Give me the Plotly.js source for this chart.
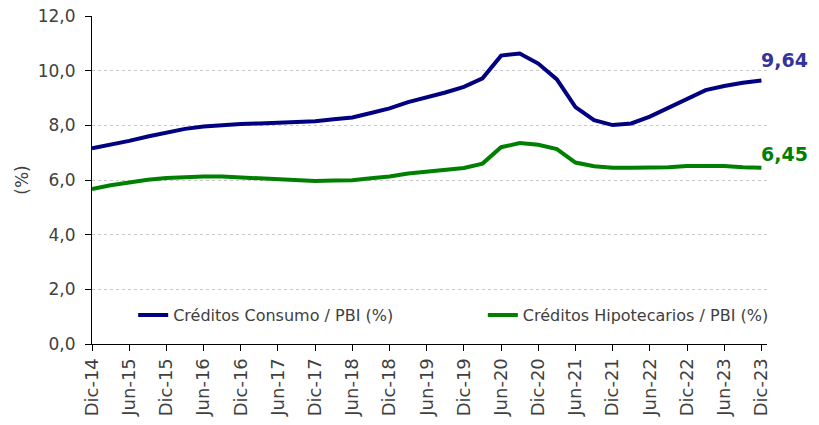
<!DOCTYPE html>
<html>
<head>
<meta charset="utf-8">
<script src="https://cdn.plot.ly/plotly-3.0.1.min.js"></script>
<style>html,body{margin:0;padding:0;background:#fff;}#chart{width:819px;height:425px;}</style>
</head>
<body>
<div id="chart"></div>
<script>
const quarters = ["Dic-14","Mar-15","Jun-15","Sep-15","Dic-15","Mar-16","Jun-16","Sep-16","Dic-16","Mar-17","Jun-17","Sep-17","Dic-17","Mar-18","Jun-18","Sep-18","Dic-18","Mar-19","Jun-19","Sep-19","Dic-19","Mar-20","Jun-20","Sep-20","Dic-20","Mar-21","Jun-21","Sep-21","Dic-21","Mar-22","Jun-22","Sep-22","Dic-22","Mar-23","Jun-23","Sep-23","Dic-23"];
const consumo = [7.16,7.29,7.43,7.59,7.73,7.87,7.96,8.01,8.05,8.07,8.10,8.12,8.15,8.22,8.29,8.45,8.62,8.85,9.02,9.20,9.41,9.72,10.55,10.63,10.26,9.68,8.67,8.19,8.01,8.07,8.32,8.64,8.99,9.29,9.44,9.56,9.64];
const hipotecarios = [5.67,5.81,5.91,6.01,6.07,6.11,6.13,6.13,6.10,6.05,6.01,5.98,5.96,5.98,5.99,6.06,6.13,6.24,6.31,6.38,6.44,6.60,7.20,7.35,7.29,7.13,6.64,6.50,6.45,6.45,6.45,6.47,6.51,6.52,6.51,6.47,6.45];
const seriesNames = ["Créditos Consumo / PBI (%)","Créditos Hipotecarios / PBI (%)"];
const lastLabels = ["9,64","6,45"];

const xIdx = quarters.map((q,i)=>i);
const tickIdx = xIdx.filter(i=>i%2===0);
const tickTxt = tickIdx.map(i=>quarters[i]);
const FONT = "DejaVu Sans, Verdana, sans-serif";

const traces = [
  {x:xIdx, y:consumo, type:'scatter', mode:'lines', name:seriesNames[0], legend:'legend',
   line:{color:'#000080', width:4}},
  {x:xIdx, y:hipotecarios, type:'scatter', mode:'lines', name:seriesNames[1], legend:'legend2',
   line:{color:'#008000', width:4}}
];
const n = quarters.length-1;
const legendBase = {orientation:'h', y:0.088, yanchor:'middle', xanchor:'left',
    bgcolor:'rgba(0,0,0,0)', font:{family:FONT, size:16, color:'#404040'}};
const layout = {
  width:819, height:425,
  margin:{l:92, r:52, t:16, b:81},
  paper_bgcolor:'#fff', plot_bgcolor:'#fff',
  showlegend:true,
  legend:Object.assign({}, legendBase, {x:0.061}),
  legend2:Object.assign({}, legendBase, {x:0.579}),
  xaxis:{range:[0, n+0.3], tickvals:tickIdx, ticktext:tickTxt, tickangle:-90,
    showgrid:false, zeroline:false, showline:true, linecolor:'#000', linewidth:1,
    ticks:'outside', ticklen:6, tickcolor:'#000',
    tickfont:{family:FONT, size:18, color:'#404040'}},
  yaxis:{range:[0,12], tickvals:[0,2,4,6,8,10,12], ticktext:["0,0","2,0","4,0","6,0","8,0","10,0","12,0"],
    showgrid:true, gridcolor:'#c8c8c8', griddash:'dot', gridwidth:1,
    zeroline:false, showline:true, linecolor:'#000', linewidth:1,
    ticks:'outside', ticklen:6, tickcolor:'#000', ticklabelstandoff:6,
    tickfont:{family:FONT, size:17, color:'#404040'},
    title:{text:'(%)', font:{family:FONT, size:17, color:'#404040'}, standoff:4}},
  annotations:[
    {x:n, y:consumo[n], xref:'x', yref:'y', text:'<b>'+lastLabels[0]+'</b>', showarrow:false,
     xanchor:'left', yanchor:'bottom', xshift:-2, yshift:8, font:{family:FONT, size:19, color:'#333399'}},
    {x:n, y:hipotecarios[n], xref:'x', yref:'y', text:'<b>'+lastLabels[1]+'</b>', showarrow:false,
     xanchor:'left', yanchor:'bottom', xshift:-2, yshift:1, font:{family:FONT, size:19, color:'#008000'}}
  ]
};
Plotly.newPlot('chart', traces, layout, {displayModeBar:false, staticPlot:true});
</script>
</body>
</html>
